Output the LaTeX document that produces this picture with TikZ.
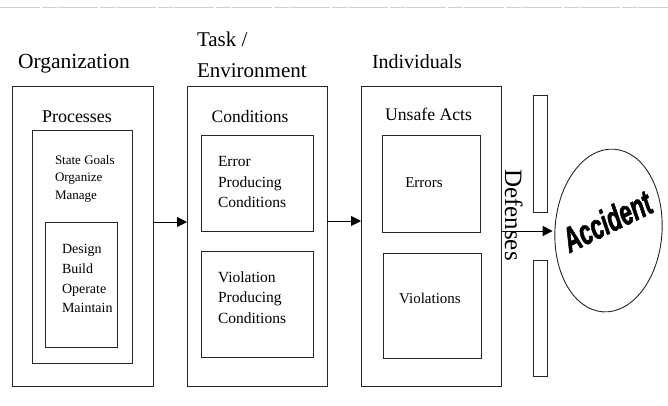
\documentclass[tikz,border=0pt]{standalone}
\usepackage{fontspec}
\setmainfont{Liberation Serif}
\newfontfamily\accfont[BoldItalicFeatures={FakeBold=2}]{Liberation Sans}
\usetikzlibrary{arrows.meta,shapes.geometric}
\begin{document}
\begin{tikzpicture}[x=1pt,y=-1pt,
  box/.style={draw=black!85,line width=0.9pt,inner sep=0,outer sep=0},
  lbl/.style={inner sep=0,outer sep=0,anchor=base},
  blk/.style={inner sep=0,outer sep=0,anchor=north west,align=left},
  arr/.style={line width=0.9pt,-{Triangle[length=10pt,width=10pt]}},
  fs/.style={font=\fontsize{#1}{#1}\selectfont},
  fsl/.style 2 args={font=\fontsize{#1}{#2}\selectfont}]
\useasboundingbox (0,0) rectangle (668,405);
\fill[white] (0,0) rectangle (668,405);
\draw[gray!35,line width=0.6pt,dash pattern=on 40pt off 1.5pt on 15pt off 1.5pt] (0,7.5) -- (668,7.5);
% main boxes
\node[box,minimum width=141pt,minimum height=300pt] (org) at (82.5,236) {};
\node[box,minimum width=140pt,minimum height=300pt] (task) at (257,236) {};
\node[box,minimum width=140pt,minimum height=300pt] (ind) at (431,236) {};
% inner boxes
\node[box,minimum width=100pt,minimum height=233pt] (proc) at (82,246.5) {};
\node[box,minimum width=72pt,minimum height=125pt] (dbom) at (81,284.5) {};
\node[box,minimum width=112pt,minimum height=96pt] (epc) at (257,183) {};
\node[box,minimum width=112pt,minimum height=106pt] (vpc) at (257,304) {};
\node[box,minimum width=98pt,minimum height=97pt] (err) at (431,183.5) {};
\node[box,minimum width=98pt,minimum height=105pt] (vio) at (432,305.5) {};
% defense bars
\node[box,minimum width=14pt,minimum height=117pt] (bar1) at (540,153.5) {};
\node[box,minimum width=14pt,minimum height=116pt] (bar2) at (540,318) {};
% accident
\node[ellipse,box,minimum width=107pt,minimum height=163pt,rotate=-4] (acc) at (608.5,230.5) {};
\node[inner sep=0,rotate=26] (tacc) at (607,221) {\scalebox{0.64}[1]{\accfont\bfseries\itshape\fontsize{35}{35}\selectfont Accident}};
% texts
\node[lbl,fs=21.5] (torg) at (74,68) {Organization};
\node[blk,fsl={21}{31}] (ttask) at (197,31.7) {Task /\\Environment};
\node[lbl,fs=20] (tind) at (417,68) {Individuals};
\node[lbl,fs=18] (tproc) at (77,122) {Processes};
\node[lbl,fs=17.5] (tcond) at (250,122) {Conditions};
\node[lbl,fs=17.7] (tunsafe) at (428.5,120) {Unsafe Acts};
\node[blk,fsl={13}{17.5}] (tsgo) at (55,155.2) {State Goals\\Organize\\Manage};
\node[blk,fsl={14}{19.7}] (tdbom) at (62,244.5) {Design\\Build\\Operate\\Maintain};
\node[blk,fsl={15.5}{20.5}] (tepc) at (218,156.5) {Error\\Producing\\Conditions};
\node[blk,fsl={15.5}{20.5}] (tvpc) at (218,271.5) {Violation\\Producing\\Conditions};
\node[lbl,fs=15] (terr) at (424,187) {Errors};
\node[lbl,fs=15] (tvio) at (430,303) {Violations};
\node[lbl,fs=25,rotate=-90] (tdef) at (505,215) {Defenses};
% arrows
\coordinate (a1) at (0,222);
\coordinate (a2) at (0,221);
\coordinate (a3) at (0,231);
\draw[arr] (org.east |- a1) -- (task.west |- a1);
\draw[arr] (task.east |- a2) -- (ind.west |- a2);
\draw[arr,shorten >=2.5pt] (ind.east |- a3) -- (acc.west |- a3);
\end{tikzpicture}
\end{document}
